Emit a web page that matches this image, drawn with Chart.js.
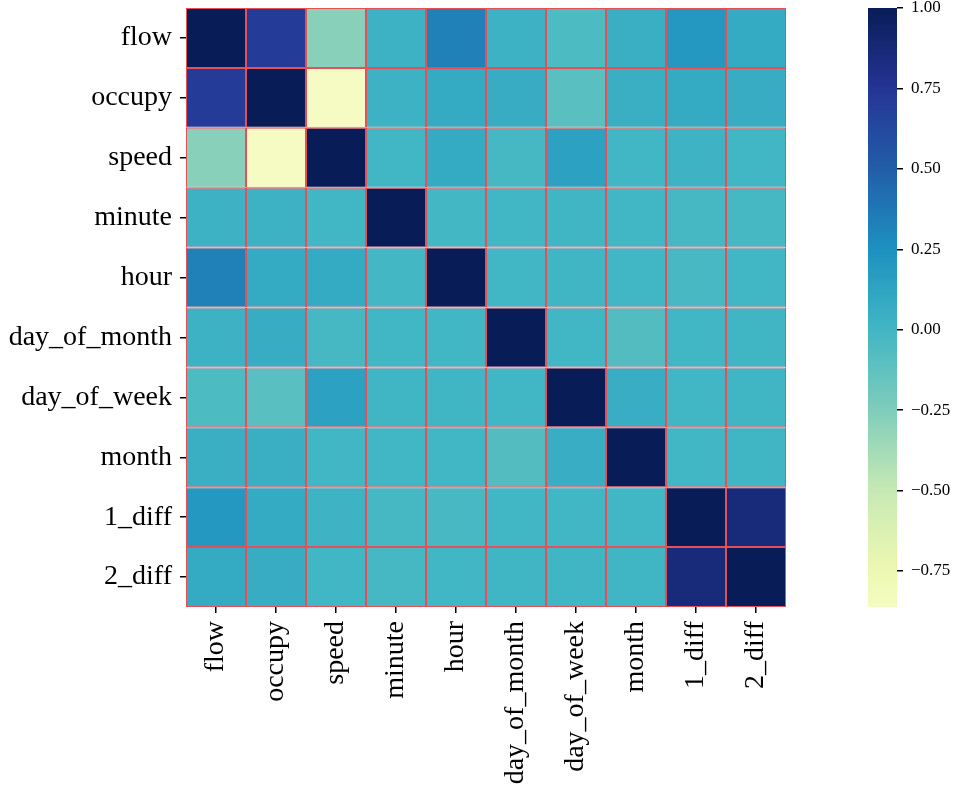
<!DOCTYPE html>
<html>
<head>
<meta charset="utf-8">
<script src="https://cdn.jsdelivr.net/npm/chart.js@4"></script>
<style>
  html, body { margin: 0; padding: 0; background: #fff; }
  #wrap { position: relative; width: 956px; height: 796px; }
  #heatDiv { position: absolute; left: 0; top: 0; width: 800px; height: 796px; }
  #barDiv { position: absolute; left: 800px; top: 0; width: 156px; height: 796px; }
</style>
</head>
<body>
<div id="wrap">
  <div id="heatDiv"><canvas id="heat"></canvas></div>
  <div id="barDiv"><canvas id="cbar"></canvas></div>
</div>
<script>
const labels = ["flow", "occupy", "speed", "minute", "hour", "day_of_month", "day_of_week", "month", "1_diff", "2_diff"];

// correlation rows
const flowRow       = [ 1.00,  0.70, -0.28,  0.03,  0.33,  0.03, -0.05,  0.05,  0.20,  0.08];
const occupyRow     = [ 0.70,  1.00, -0.86,  0.03,  0.08,  0.07, -0.10,  0.05,  0.08,  0.07];
const speedRow      = [-0.28, -0.86,  1.00,  0.00,  0.08, -0.02,  0.14,  0.00,  0.02,  0.00];
const minuteRow     = [ 0.03,  0.03,  0.00,  1.00, -0.01,  0.00,  0.01,  0.00, -0.02, -0.02];
const hourRow       = [ 0.33,  0.08,  0.08, -0.01,  1.00,  0.00,  0.01,  0.00, -0.03,  0.00];
const dayOfMonthRow = [ 0.03,  0.07, -0.02,  0.00,  0.00,  1.00,  0.00, -0.07,  0.00,  0.01];
const dayOfWeekRow  = [-0.05, -0.10,  0.14,  0.01,  0.01,  0.00,  1.00,  0.06,  0.00,  0.01];
const monthRow      = [ 0.05,  0.05,  0.00,  0.00,  0.00, -0.07,  0.06,  1.00,  0.00,  0.01];
const diff1Row      = [ 0.20,  0.08,  0.02, -0.02, -0.03,  0.00,  0.00,  0.00,  1.00,  0.86];
const diff2Row      = [ 0.08,  0.07,  0.00, -0.02,  0.00,  0.01,  0.01,  0.01,  0.86,  1.00];

const corr = [flowRow, occupyRow, speedRow, minuteRow, hourRow, dayOfMonthRow, dayOfWeekRow, monthRow, diff1Row, diff2Row];

// colorbar shows the data range, colours are centred on 0 (range -1..1)
const vMin = -0.862;
const vMax = 1.0;
const colorbarTicks = [1.0, 0.75, 0.5, 0.25, 0.0, -0.25, -0.5, -0.75];

// YlGnBu stops
const ylGnBu = ["#ffffd9", "#edf8b1", "#c7e9b4", "#7fcdbb", "#41b6c4", "#1d91c0", "#225ea8", "#253494", "#081d58"];

const hexToRgb = (hex) => [1, 3, 5].map(i => parseInt(hex.substr(i, 2), 16));

const colorFor = (v) => {
    let t = (v + 1) / 2;
    t = Math.max(0, Math.min(1, t));
    const pos = t * (ylGnBu.length - 1);
    const i = Math.min(Math.floor(pos), ylGnBu.length - 2);
    const f = pos - i;
    const a = hexToRgb(ylGnBu[i]);
    const b = hexToRgb(ylGnBu[i + 1]);
    const c = a.map((x, k) => Math.round(x + (b[k] - x) * f));
    return "rgb(" + c.join(",") + ")";
};

const serif = "'Liberation Serif', 'Times New Roman', serif";
const cellBorder = "rgba(225, 35, 45, 0.8)";

const noVerticalPadding = (scale) => {
    scale.paddingTop = 0;
    scale.paddingBottom = 0;
};

// one dataset per column, stacked across each row
const datasets = labels.map((col, j) => ({
    label: col,
    data: corr.map(() => 1),
    backgroundColor: corr.map(row => colorFor(row[j])),
    borderColor: cellBorder,
    borderWidth: 1,
    borderSkipped: false,
    inflateAmount: 0,
    barPercentage: 1,
    categoryPercentage: 1,
}));

new Chart(document.getElementById("heat"), {
    type: "bar",
    data: { labels: labels, datasets: datasets },
    options: {
        indexAxis: "y",
        responsive: true,
        maintainAspectRatio: false,
        animation: false,
        devicePixelRatio: 1,
        layout: { padding: { top: 8, right: 14, left: 0, bottom: 0 } },
        plugins: { legend: { display: false }, tooltip: { enabled: false } },
        scales: {
            x: {
                type: "linear",
                stacked: true,
                min: 0,
                max: 10,
                afterBuildTicks: (scale) => {
                    scale.ticks = labels.map((l, i) => ({ value: i + 0.5 }));
                },
                afterFit: (scale) => { scale.height = 189; },
                border: { display: false },
                grid: { drawOnChartArea: false, tickLength: 6, color: "#000", lineWidth: 1.5 },
                ticks: {
                    autoSkip: false,
                    minRotation: 90,
                    maxRotation: 90,
                    padding: 8,
                    color: "#000",
                    font: { family: serif, size: 28 },
                    callback: (value, index) => labels[index],
                },
            },
            y: {
                stacked: true,
                afterFit: (scale) => {
                    scale.width = 186;
                    noVerticalPadding(scale);
                },
                border: { display: false },
                grid: { offset: false, drawOnChartArea: false, tickLength: 6, color: "#000", lineWidth: 1.5 },
                ticks: {
                    padding: 8,
                    color: "#000",
                    font: { family: serif, size: 28 },
                },
            },
        },
    },
});

// colorbar: one floating bar filled with the part of the colormap in range
new Chart(document.getElementById("cbar"), {
    type: "bar",
    data: {
        labels: ["corr"],
        datasets: [{
            data: [[vMin, vMax]],
            backgroundColor: (ctx) => {
                const area = ctx.chart.chartArea;
                if (!area) return ylGnBu[4];
                const g = ctx.chart.ctx.createLinearGradient(0, area.bottom, 0, area.top);
                const steps = 40;
                for (let i = 0; i <= steps; i++) {
                    g.addColorStop(i / steps, colorFor(vMin + (vMax - vMin) * i / steps));
                }
                return g;
            },
            borderWidth: 0,
            barPercentage: 1,
            categoryPercentage: 1,
        }],
    },
    options: {
        responsive: true,
        maintainAspectRatio: false,
        animation: false,
        devicePixelRatio: 1,
        layout: { padding: { top: 8, left: 68, right: 0, bottom: 189 } },
        plugins: { legend: { display: false }, tooltip: { enabled: false } },
        scales: {
            x: { display: false },
            y: {
                position: "right",
                min: vMin,
                max: vMax,
                afterBuildTicks: (scale) => {
                    scale.ticks = colorbarTicks.map(v => ({ value: v }));
                },
                afterFit: (scale) => {
                    scale.width = 59;
                    noVerticalPadding(scale);
                },
                border: { display: false },
                grid: { drawOnChartArea: false, tickLength: 6, color: "#000", lineWidth: 1.5 },
                ticks: {
                    padding: 8,
                    color: "#000",
                    font: { family: serif, size: 17 },
                    callback: (value) => (value < 0 ? "\u2212" : "") + Math.abs(value).toFixed(2),
                },
            },
        },
    },
});
</script>
</body>
</html>
